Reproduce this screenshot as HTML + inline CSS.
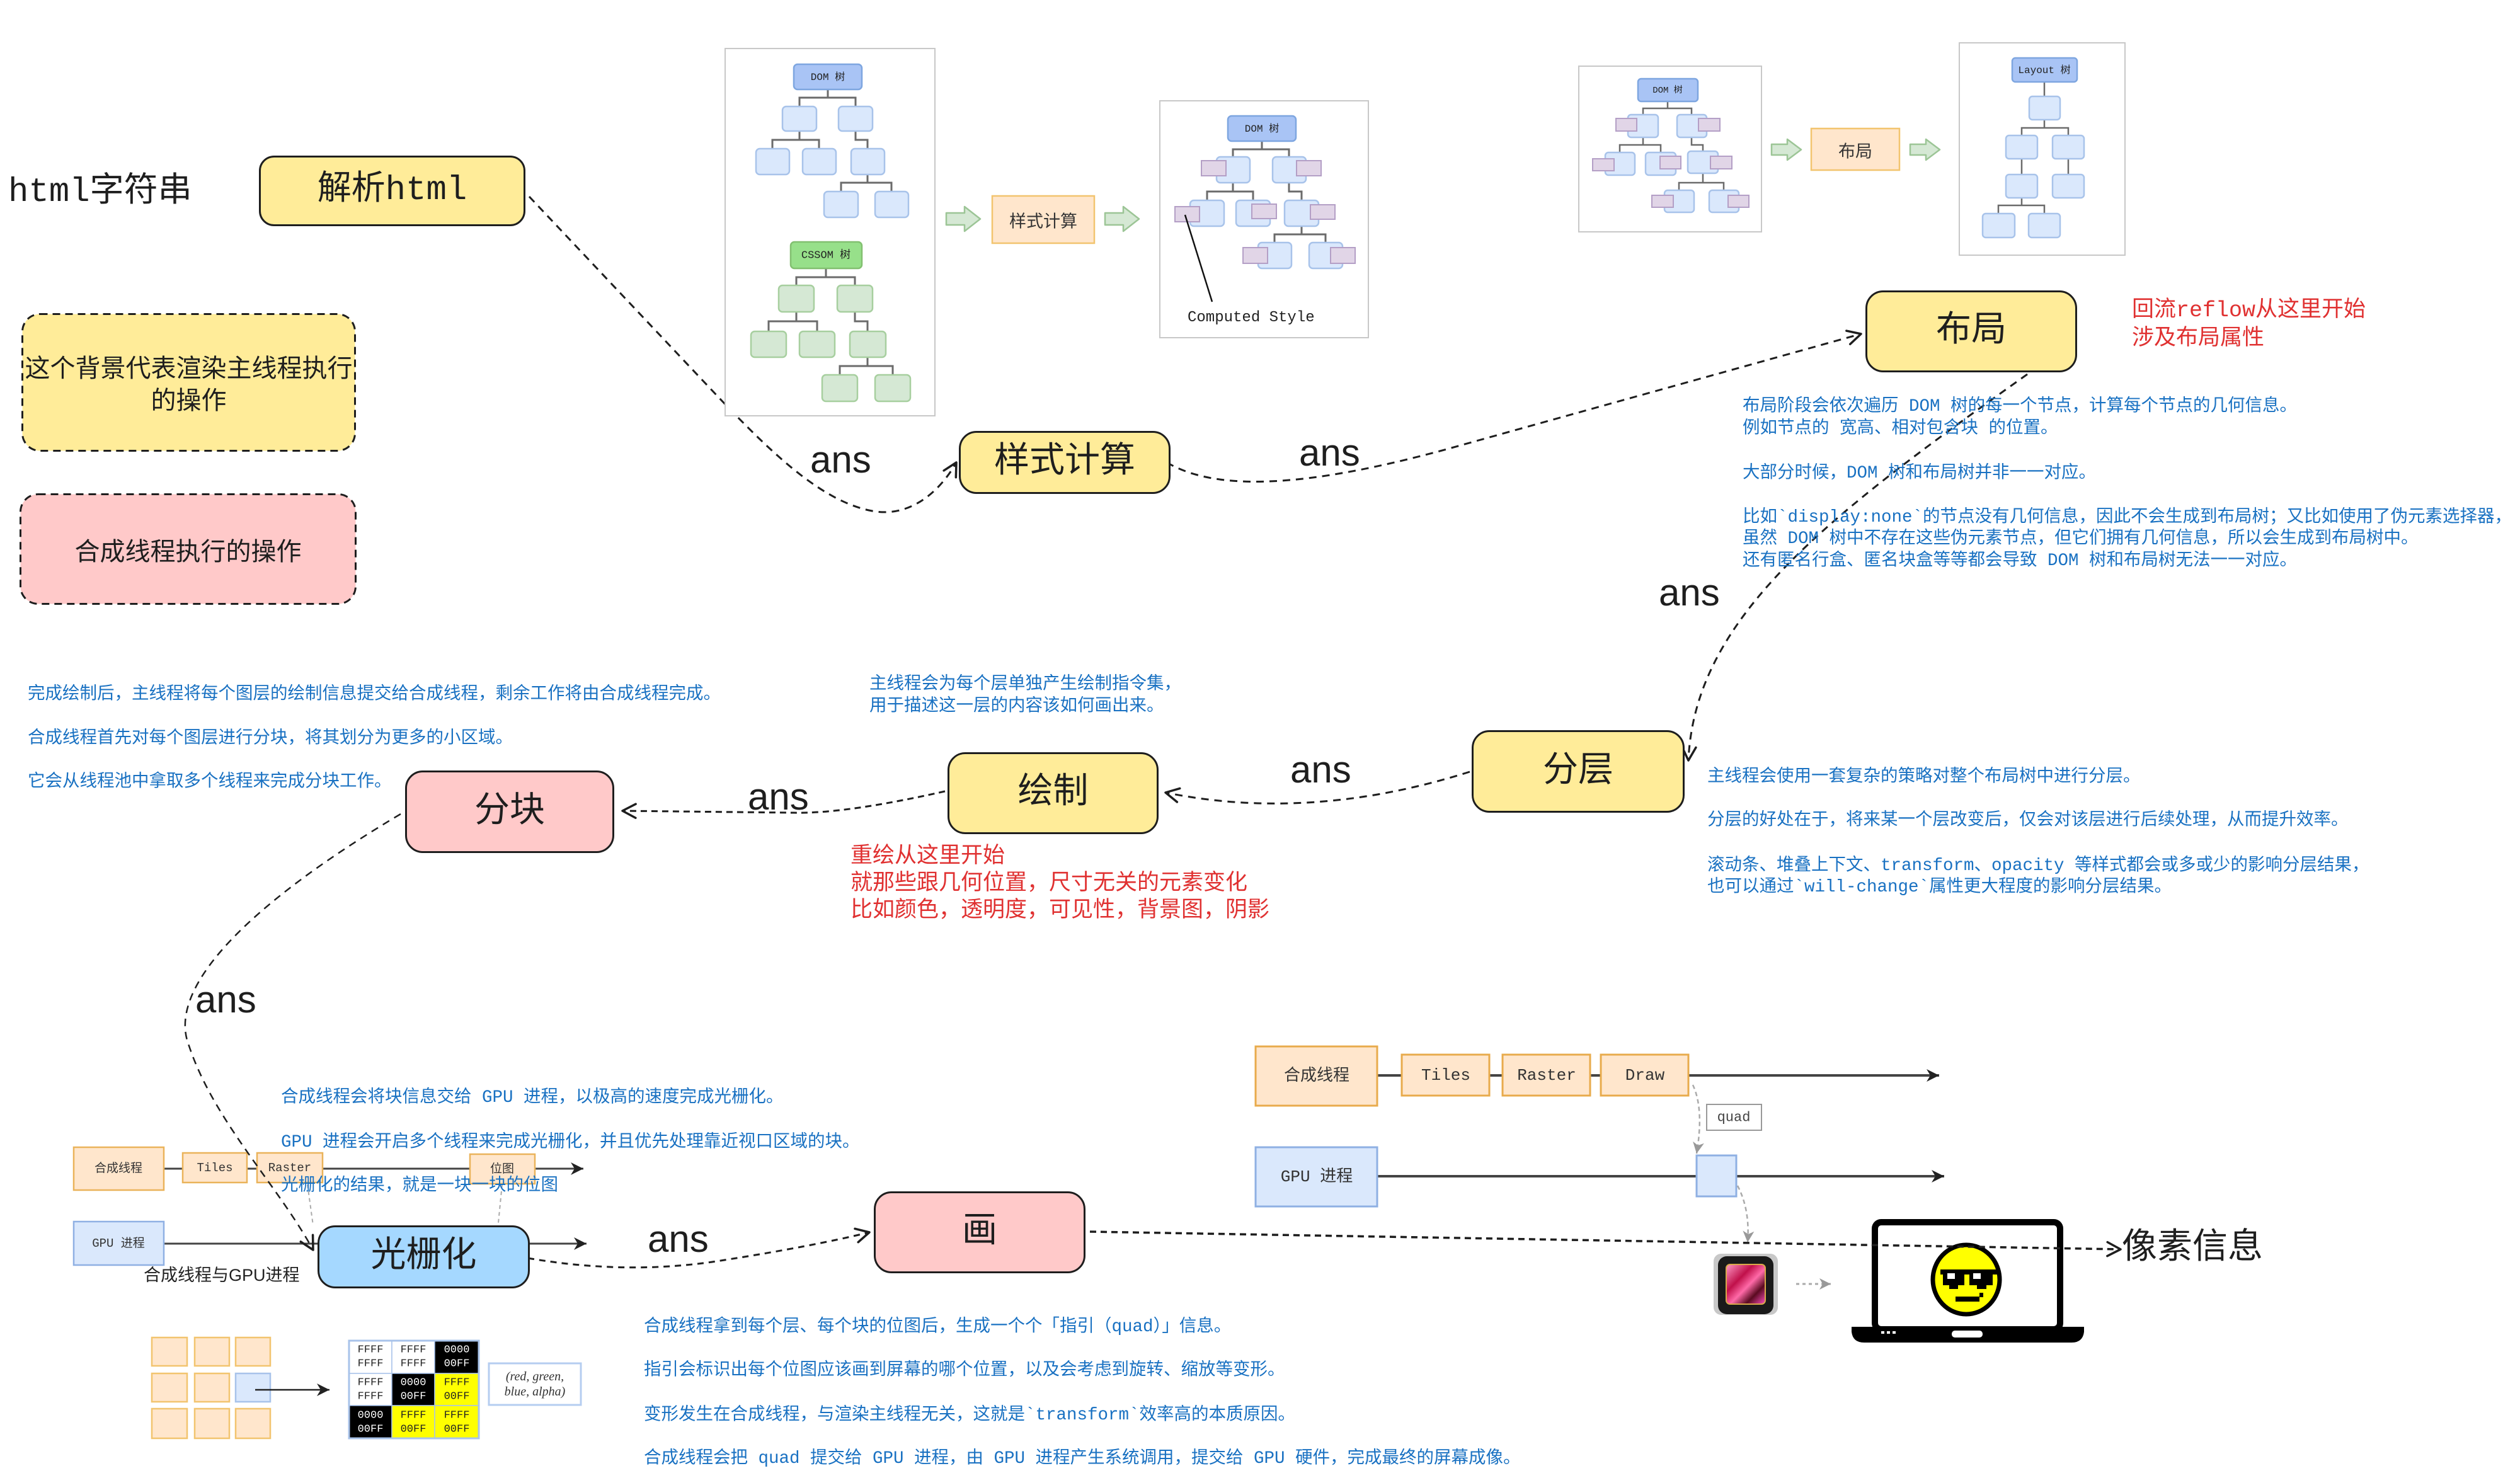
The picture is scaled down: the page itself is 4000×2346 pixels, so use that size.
<!DOCTYPE html>
<html><head><meta charset="utf-8">
<style>
html,body{margin:0;padding:0;background:#fff;}
body{width:4000px;height:2346px;position:relative;overflow:hidden;font-family:"Liberation Sans","Noto Sans CJK SC",sans-serif;}
.a{position:absolute;white-space:pre;line-height:1;color:#1e1e1e;}
.box{position:absolute;box-sizing:border-box;border:3px solid #1e1e1e;border-radius:28px;display:flex;align-items:center;justify-content:center;font-family:"Liberation Mono","Noto Sans CJK SC",monospace;font-size:56px;color:#1e1e1e;line-height:1;white-space:pre;}
.nb{border:none;background:transparent;}
.y{background:#ffec99}
.p{background:#ffc9c9}
.bl{background:#a5d8ff}
.b{position:absolute;white-space:pre;font-family:"Liberation Mono","Noto Sans CJK SC",monospace;font-size:27.5px;line-height:28px;color:#1971c2;}
.r{position:absolute;white-space:pre;font-family:"Liberation Mono","Noto Sans CJK SC",monospace;font-size:35px;line-height:36px;color:#e03131;}
.ans{position:absolute;font-family:"Liberation Sans",sans-serif;font-size:60px;line-height:60px;color:#1e1e1e;}
svg{position:absolute;left:0;top:0;}
</style></head><body>
<svg width="4000" height="2346" viewBox="0 0 4000 2346" xmlns="http://www.w3.org/2000/svg">
<defs>
<marker id="ar" markerUnits="userSpaceOnUse" markerWidth="32" markerHeight="32" refX="24" refY="13" orient="auto"><path d="M3,2 L24,13 L3,24" fill="none" stroke="#1e1e1e" stroke-width="3.5" stroke-linecap="round" stroke-linejoin="round" stroke-dasharray="none"/></marker>
<marker id="tr" markerUnits="userSpaceOnUse" markerWidth="24" markerHeight="24" refX="20" refY="11" orient="auto"><path d="M0,1 L20,11 L0,21 L6,11z" fill="#222"/></marker>
<marker id="gr" markerUnits="userSpaceOnUse" markerWidth="24" markerHeight="24" refX="18" refY="10" orient="auto"><path d="M0,1 L18,10 L0,19 L5,10z" fill="#999"/></marker>
<linearGradient id="chipg" x1="0" y1="0" x2="1" y2="1">
<stop offset="0" stop-color="#ff9ac8"/><stop offset="0.35" stop-color="#c0104a"/><stop offset="0.55" stop-color="#ff6aa8"/><stop offset="0.75" stop-color="#5a0a20"/><stop offset="1" stop-color="#ff4fc0"/>
</linearGradient>
</defs>

<!-- dashed legend boxes -->
<rect x="35.5" y="498.5" width="528" height="217" rx="28" fill="#ffec99" stroke="#1e1e1e" stroke-width="3" stroke-dasharray="12 8"/>
<rect x="32.5" y="784.5" width="532" height="174" rx="28" fill="#ffc9c9" stroke="#1e1e1e" stroke-width="3" stroke-dasharray="12 8"/>

<!-- C1 connector under panel -->
<path d="M840 312 L1140 630 C1230 725 1310 800 1390 812 C1450 820 1495 775 1518 734" fill="none" stroke="#1e1e1e" stroke-width="3" stroke-dasharray="12 9" marker-end="url(#ar)"/>

<!-- Left panel -->
<rect x="1151" y="77" width="333" height="583" fill="#fff" stroke="#c8c8c8" stroke-width="2"/>
<path d="M1314 142V155 M1269 169V155H1358V169 M1269 208V222 M1226 236V222H1300V236 M1358 208V222H1377V236 M1377 277V290 M1335 304V290H1415V304" fill="none" stroke="#6b6b6b" stroke-width="3"/>
<path d="M1311 426V440 M1264 453V440H1357V453 M1264 495V510 M1220 526V510H1297V526 M1357 495V510H1377V526 M1377 567V581 M1333 595V581H1417V595" fill="none" stroke="#6b6b6b" stroke-width="3"/>
<g fill="#dae8fc" stroke="#a8c3ea" stroke-width="2.5">
<rect x="1242" y="169" width="54" height="39" rx="6"/><rect x="1331" y="169" width="54" height="39" rx="6"/>
<rect x="1200" y="236" width="53" height="41" rx="6"/><rect x="1274" y="236" width="53" height="41" rx="6"/><rect x="1351" y="236" width="53" height="41" rx="6"/>
<rect x="1308" y="304" width="54" height="41" rx="6"/><rect x="1389" y="304" width="53" height="41" rx="6"/>
</g>
<rect x="1260" y="102" width="108" height="40" rx="6" fill="#a9c4f5" stroke="#7ea6e0" stroke-width="2.5"/>
<text x="1314" y="123" text-anchor="middle" dominant-baseline="central" font-family="Liberation Mono, Noto Sans CJK SC, monospace" font-size="16" fill="#222">DOM 树</text>
<g fill="#d5e8d4" stroke="#a7cf9f" stroke-width="2.5">
<rect x="1236" y="453" width="56" height="42" rx="6"/><rect x="1329" y="453" width="56" height="42" rx="6"/>
<rect x="1192" y="526" width="56" height="41" rx="6"/><rect x="1269" y="526" width="56" height="41" rx="6"/><rect x="1349" y="526" width="57" height="41" rx="6"/>
<rect x="1305" y="595" width="56" height="42" rx="6"/><rect x="1389" y="595" width="56" height="42" rx="6"/>
</g>
<rect x="1255" y="384" width="113" height="42" rx="6" fill="#97e08a" stroke="#82c070" stroke-width="2.5"/>
<text x="1311" y="406" text-anchor="middle" dominant-baseline="central" font-family="Liberation Mono, Noto Sans CJK SC, monospace" font-size="17" fill="#222">CSSOM 树</text>

<!-- green block arrows -->
<g fill="#d5e8d4" stroke="#9cc596" stroke-width="2.5" stroke-linejoin="round">
<polygon points="1502,338 1531,338 1531,328 1556,347.5 1531,367 1531,357 1502,357"/>
<polygon points="1754,338 1783,338 1783,328 1808,347.5 1783,367 1783,357 1754,357"/>
<polygon points="2812,229 2837,229 2837,221 2859,237.5 2837,254 2837,246 2812,246"/>
<polygon points="3032,229 3057,229 3057,221 3079,237.5 3057,254 3057,246 3032,246"/>
</g>
<!-- 样式计算 orange -->
<rect x="1575" y="311" width="162" height="75" fill="#ffe6cc" stroke="#f2c46f" stroke-width="2.5"/>
<text x="1656" y="349" text-anchor="middle" dominant-baseline="central" font-family="Noto Sans CJK SC, sans-serif" font-size="27" fill="#333">样式计算</text>

<!-- Right panel (computed style) -->
<rect x="1841" y="160" width="331" height="376" fill="#fff" stroke="#c8c8c8" stroke-width="2"/>
<path d="M2003 224V237 M1957 249V237H2046V249 M1957 290V304 M1916 318V304H1989V318 M2046 290V304H2066V318 M2066 359V372 M2023 385V372H2104V385" fill="none" stroke="#6b6b6b" stroke-width="3"/>
<g fill="#dae8fc" stroke="#a8c3ea" stroke-width="2.5">
<rect x="1931" y="249" width="53" height="41" rx="6"/><rect x="2020" y="249" width="53" height="41" rx="6"/>
<rect x="1889" y="318" width="54" height="41" rx="6"/><rect x="1962" y="318" width="54" height="41" rx="6"/><rect x="2039" y="318" width="54" height="41" rx="6"/>
<rect x="1997" y="385" width="53" height="41" rx="6"/><rect x="2078" y="385" width="53" height="41" rx="6"/>
</g>
<rect x="1949" y="184" width="108" height="40" rx="6" fill="#a9c4f5" stroke="#7ea6e0" stroke-width="2.5"/>
<text x="2003" y="205" text-anchor="middle" dominant-baseline="central" font-family="Liberation Mono, Noto Sans CJK SC, monospace" font-size="16" fill="#222">DOM 树</text>
<g fill="#e1d5e7" stroke="#b49fc6" stroke-width="2">
<rect x="1907" y="255" width="39" height="24"/><rect x="2058" y="255" width="39" height="24"/>
<rect x="1865" y="328" width="39" height="24"/><rect x="1987" y="324" width="39" height="23"/><rect x="2080" y="325" width="39" height="23"/>
<rect x="1973" y="393" width="39" height="25"/><rect x="2112" y="393" width="39" height="25"/>
</g>
<line x1="1881" y1="341" x2="1924" y2="479" stroke="#111" stroke-width="2.5"/>

<!-- Panel 3 -->
<rect x="2506" y="105" width="290" height="263" fill="#fff" stroke="#c8c8c8" stroke-width="2"/>
<path d="M2647 161V172 M2608 182V172H2685V182 M2608 218V230 M2571 242V230H2636V242 M2685 218V230H2703V240 M2703 275V290 M2665 302V290H2736V302" fill="none" stroke="#6b6b6b" stroke-width="2.5"/>
<g fill="#dae8fc" stroke="#a8c3ea" stroke-width="2.5">
<rect x="2584" y="182" width="48" height="36" rx="5"/><rect x="2662" y="182" width="47" height="36" rx="5"/>
<rect x="2548" y="242" width="47" height="36" rx="5"/><rect x="2612" y="242" width="48" height="36" rx="5"/><rect x="2679" y="240" width="48" height="35" rx="5"/>
<rect x="2642" y="302" width="47" height="35" rx="5"/><rect x="2713" y="302" width="47" height="35" rx="5"/>
</g>
<rect x="2600" y="125" width="95" height="36" rx="5" fill="#a9c4f5" stroke="#7ea6e0" stroke-width="2.5"/>
<text x="2647" y="144" text-anchor="middle" dominant-baseline="central" font-family="Liberation Mono, Noto Sans CJK SC, monospace" font-size="14" fill="#222">DOM 树</text>
<g fill="#e1d5e7" stroke="#b49fc6" stroke-width="2">
<rect x="2565" y="188" width="33" height="20"/><rect x="2696" y="188" width="34" height="20"/>
<rect x="2528" y="252" width="34" height="19"/><rect x="2635" y="248" width="33" height="20"/><rect x="2715" y="248" width="34" height="20"/>
<rect x="2622" y="310" width="34" height="19"/><rect x="2743" y="310" width="33" height="19"/>
</g>
<!-- 布局 orange -->
<rect x="2875" y="204" width="140" height="66" fill="#ffe6cc" stroke="#f2c46f" stroke-width="2.5"/>
<text x="2945" y="238" text-anchor="middle" dominant-baseline="central" font-family="Noto Sans CJK SC, sans-serif" font-size="27" fill="#333">布局</text>

<!-- Layout panel -->
<rect x="3110" y="68" width="263" height="337" fill="#fff" stroke="#c8c8c8" stroke-width="2"/>
<path d="M3245 130V153 M3245 190V203 M3209 215V203H3283V215 M3209 252V277 M3283 252V277 M3209 314V326 M3172 339V326H3245V339" fill="none" stroke="#6b6b6b" stroke-width="2.5"/>
<g fill="#dae8fc" stroke="#a8c3ea" stroke-width="2.5">
<rect x="3221" y="153" width="49" height="37" rx="5"/>
<rect x="3184" y="215" width="50" height="37" rx="5"/><rect x="3258" y="215" width="50" height="37" rx="5"/>
<rect x="3184" y="277" width="50" height="37" rx="5"/><rect x="3258" y="277" width="50" height="37" rx="5"/>
<rect x="3147" y="339" width="51" height="38" rx="5"/><rect x="3220" y="339" width="50" height="38" rx="5"/>
</g>
<rect x="3194" y="92" width="103" height="38" rx="5" fill="#a9c4f5" stroke="#7ea6e0" stroke-width="2.5"/>
<text x="3245" y="112" text-anchor="middle" dominant-baseline="central" font-family="Liberation Mono, Noto Sans CJK SC, monospace" font-size="16" fill="#222">Layout 树</text>

<!-- Bottom-left timeline -->
<line x1="260" y1="1855" x2="926" y2="1855" stroke="#444" stroke-width="3" marker-end="url(#tr)"/>
<line x1="260" y1="1974" x2="931" y2="1974" stroke="#444" stroke-width="3" marker-end="url(#tr)"/>
<g fill="#ffe6cc" stroke="#eab35a" stroke-width="2.5">
<rect x="117" y="1821" width="143" height="68"/>
<rect x="290" y="1830" width="102" height="47"/>
<rect x="408" y="1830" width="104" height="47"/>
<rect x="746" y="1832" width="103" height="47"/>
</g>
<rect x="117" y="1939" width="143" height="69" fill="#dae8fc" stroke="#8fb0e3" stroke-width="2.5"/>
<g font-size="19" fill="#333" text-anchor="middle" dominant-baseline="central" font-family="Liberation Mono, Noto Sans CJK SC, monospace">
<text x="188" y="1855">合成线程</text>
<text x="341" y="1854">Tiles</text>
<text x="460" y="1854">Raster</text>
<text x="797" y="1856">位图</text>
<text x="188" y="1974">GPU 进程</text>
</g>
<path d="M488 1880 L497 1945 M797 1880 L791 1941" stroke="#aaa" stroke-width="2" stroke-dasharray="6 5" fill="none"/>

<!-- pixel grid image -->
<g fill="#ffe6cc" stroke="#f2c46f" stroke-width="2.5">
<rect x="241" y="2123" width="56" height="45"/><rect x="309" y="2123" width="55" height="45"/><rect x="374" y="2123" width="55" height="45"/>
<rect x="241" y="2180" width="56" height="45"/><rect x="309" y="2180" width="55" height="45"/>
<rect x="241" y="2236" width="56" height="47"/><rect x="309" y="2236" width="55" height="47"/><rect x="374" y="2236" width="55" height="47"/>
</g>
<rect x="374" y="2180" width="55" height="45" fill="#dae8fc" stroke="#a8c3ea" stroke-width="2.5"/>
<line x1="405" y1="2206" x2="523" y2="2206" stroke="#222" stroke-width="2.5" marker-end="url(#tr)"/>
<g stroke="#a8c3ea" stroke-width="1.5">
<rect x="554" y="2128" width="68" height="52" fill="#fff"/><rect x="622" y="2128" width="68" height="52" fill="#fff"/><rect x="690" y="2128" width="70" height="52" fill="#000"/>
<rect x="554" y="2180" width="68" height="51" fill="#fff"/><rect x="622" y="2180" width="68" height="51" fill="#000"/><rect x="690" y="2180" width="70" height="51" fill="#ffff00"/>
<rect x="554" y="2231" width="68" height="52" fill="#000"/><rect x="622" y="2231" width="68" height="52" fill="#ffff00"/><rect x="690" y="2231" width="70" height="52" fill="#ffff00"/>
</g>
<rect x="554" y="2128" width="206" height="155" fill="none" stroke="#a8c3ea" stroke-width="3"/>
<g font-family="Liberation Mono, monospace" font-size="17" text-anchor="middle" dominant-baseline="central">
<text x="588" y="2143" fill="#222">FFFF</text><text x="588" y="2165" fill="#222">FFFF</text>
<text x="656" y="2143" fill="#222">FFFF</text><text x="656" y="2165" fill="#222">FFFF</text>
<text x="725" y="2143" fill="#fff">0000</text><text x="725" y="2165" fill="#fff">00FF</text>
<text x="588" y="2195" fill="#222">FFFF</text><text x="588" y="2217" fill="#222">FFFF</text>
<text x="656" y="2195" fill="#fff">0000</text><text x="656" y="2217" fill="#fff">00FF</text>
<text x="725" y="2195" fill="#222">FFFF</text><text x="725" y="2217" fill="#222">00FF</text>
<text x="588" y="2247" fill="#fff">0000</text><text x="588" y="2269" fill="#fff">00FF</text>
<text x="656" y="2247" fill="#222">FFFF</text><text x="656" y="2269" fill="#222">00FF</text>
<text x="725" y="2247" fill="#222">FFFF</text><text x="725" y="2269" fill="#222">00FF</text>
</g>
<rect x="776" y="2164" width="146" height="66" fill="#fff" stroke="#b5cdf0" stroke-width="3"/>
<g font-family="Liberation Serif, serif" font-style="italic" font-size="20" fill="#333" text-anchor="middle" dominant-baseline="central">
<text x="849" y="2185">(red, green,</text><text x="849" y="2209">blue, alpha)</text>
</g>

<!-- Bottom-right timeline -->
<line x1="2186" y1="1707" x2="3078" y2="1707" stroke="#444" stroke-width="4" marker-end="url(#tr)"/>
<line x1="2186" y1="1867" x2="3086" y2="1867" stroke="#444" stroke-width="4" marker-end="url(#tr)"/>
<g fill="#ffe6cc" stroke="#e8ab4c" stroke-width="3">
<rect x="1993" y="1661" width="193" height="94"/>
<rect x="2225" y="1674" width="139" height="65"/>
<rect x="2385" y="1674" width="139" height="65"/>
<rect x="2541" y="1674" width="139" height="65"/>
</g>
<rect x="1993" y="1821" width="193" height="94" fill="#dae8fc" stroke="#8fb0e3" stroke-width="3"/>
<rect x="2693" y="1834" width="63" height="65" fill="#dae8fc" stroke="#8fb0e3" stroke-width="3"/>
<g font-size="26" fill="#333" text-anchor="middle" dominant-baseline="central" font-family="Liberation Mono, Noto Sans CJK SC, monospace">
<text x="2090" y="1708">合成线程</text>
<text x="2295" y="1707">Tiles</text>
<text x="2455" y="1707">Raster</text>
<text x="2611" y="1707">Draw</text>
<text x="2090" y="1868">GPU 进程</text>
</g>
<path d="M2687 1722 Q2705 1760 2693 1831" fill="none" stroke="#aaa" stroke-width="2.5" stroke-dasharray="7 5" marker-end="url(#gr)"/>
<rect x="2709" y="1753" width="87" height="41" fill="#fff" stroke="#999" stroke-width="2"/>
<text x="2752" y="1774" text-anchor="middle" dominant-baseline="central" font-family="Liberation Mono, monospace" font-size="22" fill="#444">quad</text>
<path d="M2758 1882 Q2778 1920 2774 1972" fill="none" stroke="#aaa" stroke-width="2.5" stroke-dasharray="7 5" marker-end="url(#gr)"/>

<!-- chip -->
<rect x="2720" y="1990" width="102" height="97" rx="12" fill="#c8c8c8"/>
<rect x="2727" y="1994" width="88" height="92" rx="14" fill="#1a1a1a"/>
<rect x="2740" y="2007" width="62" height="63" rx="6" fill="url(#chipg)" stroke="#d9a84a" stroke-width="2"/>
<line x1="2851" y1="2038" x2="2906" y2="2038" stroke="#aaa" stroke-width="3" stroke-dasharray="5 5" marker-end="url(#gr)"/>

<!-- laptop -->
<rect x="2976" y="1940" width="294" height="170" rx="10" fill="#fff" stroke="#000" stroke-width="10"/>
<path d="M2939 2106 H3308 V2114 Q3306 2131 3288 2131 H2959 Q2941 2131 2939 2114 Z" fill="#000"/>
<rect x="3098" y="2112" width="49" height="11" rx="5" fill="#fff"/>
<g fill="#fff"><rect x="2986" y="2113" width="5" height="4"/><rect x="2995" y="2113" width="5" height="4"/><rect x="3004" y="2113" width="5" height="4"/></g>
<!-- smiley -->
<ellipse cx="3121" cy="2031" rx="53" ry="55" fill="#ffff00" stroke="#000" stroke-width="7"/>
<rect x="3080" y="2015" width="90" height="8" fill="#000"/>
<path d="M3084 2015 H3118 V2040 H3108 V2046 H3094 V2040 H3084 Z" fill="#000"/>
<path d="M3126 2015 H3163 V2040 H3153 V2046 H3138 V2040 H3126 Z" fill="#000"/>
<rect x="3091" y="2021" width="12" height="9" fill="#fff"/>
<rect x="3132" y="2021" width="12" height="9" fill="#fff"/>
<rect x="3104" y="2058" width="38" height="8" fill="#000"/>
<rect x="3142" y="2052" width="6" height="7" fill="#000"/>

<!-- connectors -->
<path d="M1852 734 C1930 780 2070 775 2300 712 L2954 530" fill="none" stroke="#1e1e1e" stroke-width="3" stroke-dasharray="12 9" marker-end="url(#ar)"/>
<path d="M3218 594 C2900 820 2690 980 2680 1207" fill="none" stroke="#1e1e1e" stroke-width="3" stroke-dasharray="12 9" marker-end="url(#ar)"/>
<path d="M2333 1225 Q2080 1305 1850 1258" fill="none" stroke="#1e1e1e" stroke-width="3" stroke-dasharray="12 9" marker-end="url(#ar)"/>
<path d="M1500 1256 Q1340 1292 1260 1290 L988 1287" fill="none" stroke="#1e1e1e" stroke-width="3" stroke-dasharray="10 7" marker-end="url(#ar)"/>
<path d="M636 1292 C420 1420 260 1560 300 1660 C340 1780 440 1880 497 1984" fill="none" stroke="#1e1e1e" stroke-width="2.5" stroke-dasharray="12 9" marker-end="url(#ar)"/>
<path d="M838 1997 Q1000 2025 1150 2000 Q1290 1978 1380 1956" fill="none" stroke="#1e1e1e" stroke-width="3" stroke-dasharray="10 8" marker-end="url(#ar)"/>
<path d="M1730 1955 L3366 1983" fill="none" stroke="#1e1e1e" stroke-width="3.5" stroke-dasharray="10 7" marker-end="url(#ar)"/>
</svg>

<!-- Top-left -->
<div class="a" style="left:13px;top:279px;font-size:54px;font-family:'Liberation Mono','Noto Sans CJK SC',monospace;">html字符串</div>
<div class="box y" style="left:411px;top:247px;width:423px;height:112px;font-size:54px;border-radius:24px;">解析html</div>
<div class="box nb" style="left:34px;top:497px;width:531px;height:220px;font-family:'Noto Sans CJK SC',sans-serif;font-size:40px;line-height:51px;text-align:center;">这个背景代表渲染主线程执行
的操作</div>
<div class="box nb" style="left:31px;top:783px;width:535px;height:177px;font-family:'Noto Sans CJK SC',sans-serif;font-size:40px;">合成线程执行的操作</div>

<div class="a" style="left:1885px;top:493px;font-size:24px;font-family:'Liberation Mono',monospace;color:#222;">Computed Style</div>

<!-- main boxes -->
<div class="box y" style="left:1522px;top:684px;width:336px;height:100px;">样式计算</div>
<div class="box y" style="left:2961px;top:461px;width:336px;height:130px;">布局</div>
<div class="box y" style="left:2336px;top:1159px;width:338px;height:131px;">分层</div>
<div class="box y" style="left:1504px;top:1194px;width:335px;height:130px;">绘制</div>
<div class="box p" style="left:643px;top:1223px;width:332px;height:131px;">分块</div>
<div class="box bl" style="left:504px;top:1945px;width:337px;height:100px;">光栅化</div>
<div class="box p" style="left:1387px;top:1891px;width:336px;height:130px;">画</div>

<div class="a" style="left:3368px;top:1946px;font-size:56px;font-family:'Noto Sans CJK SC',sans-serif;">像素信息</div>
<div class="a" style="left:228px;top:2011px;font-size:27px;color:#222;">合成线程与GPU进程</div>

<!-- ans labels -->
<div class="ans" style="left:1286px;top:700px;">ans</div>
<div class="ans" style="left:2062px;top:689px;">ans</div>
<div class="ans" style="left:2633px;top:911px;">ans</div>
<div class="ans" style="left:2048px;top:1192px;">ans</div>
<div class="ans" style="left:1187px;top:1235px;">ans</div>
<div class="ans" style="left:310px;top:1557px;">ans</div>
<div class="ans" style="left:1028px;top:1937px;">ans</div>

<!-- red texts -->
<div class="r" style="left:3384px;top:475px;">回流reflow从这里开始</div>
<div class="r" style="left:3384px;top:520px;">涉及布局属性</div>
<div class="r" style="left:1350px;top:1342px;">重绘从这里开始</div>
<div class="r" style="left:1350px;top:1385px;">就那些跟几何位置，尺寸无关的元素变化</div>
<div class="r" style="left:1350px;top:1428px;">比如颜色，透明度，可见性，背景图，阴影</div>

<!-- blue texts: layout -->
<div class="b" style="left:2766px;top:632px;">布局阶段会依次遍历 DOM 树的每一个节点，计算每个节点的几何信息。</div>
<div class="b" style="left:2766px;top:667px;">例如节点的 宽高、相对包含块 的位置。</div>
<div class="b" style="left:2766px;top:738px;">大部分时候，DOM 树和布局树并非一一对应。</div>
<div class="b" style="left:2766px;top:808px;">比如`display:none`的节点没有几何信息，因此不会生成到布局树；又比如使用了伪元素选择器，</div>
<div class="b" style="left:2766px;top:842px;">虽然 DOM 树中不存在这些伪元素节点，但它们拥有几何信息，所以会生成到布局树中。</div>
<div class="b" style="left:2766px;top:877px;">还有匿名行盒、匿名块盒等等都会导致 DOM 树和布局树无法一一对应。</div>

<!-- blue: layering -->
<div class="b" style="left:2710px;top:1220px;">主线程会使用一套复杂的策略对整个布局树中进行分层。</div>
<div class="b" style="left:2710px;top:1289px;">分层的好处在于，将来某一个层改变后，仅会对该层进行后续处理，从而提升效率。</div>
<div class="b" style="left:2710px;top:1361px;">滚动条、堆叠上下文、transform、opacity 等样式都会或多或少的影响分层结果，</div>
<div class="b" style="left:2710px;top:1395px;">也可以通过`will-change`属性更大程度的影响分层结果。</div>

<!-- blue: tiling -->
<div class="b" style="left:44px;top:1089px;">完成绘制后，主线程将每个图层的绘制信息提交给合成线程，剩余工作将由合成线程完成。</div>
<div class="b" style="left:44px;top:1159px;">合成线程首先对每个图层进行分块，将其划分为更多的小区域。</div>
<div class="b" style="left:44px;top:1228px;">它会从线程池中拿取多个线程来完成分块工作。</div>

<!-- blue: paint -->
<div class="b" style="left:1380px;top:1073px;">主线程会为每个层单独产生绘制指令集，</div>
<div class="b" style="left:1380px;top:1108px;">用于描述这一层的内容该如何画出来。</div>

<!-- blue: raster -->
<div class="b" style="left:446px;top:1729px;">合成线程会将块信息交给 GPU 进程，以极高的速度完成光栅化。</div>
<div class="b" style="left:446px;top:1800px;">GPU 进程会开启多个线程来完成光栅化，并且优先处理靠近视口区域的块。</div>
<div class="b" style="left:446px;top:1869px;">光栅化的结果，就是一块一块的位图</div>

<!-- blue: draw -->
<div class="b" style="left:1022px;top:2093px;">合成线程拿到每个层、每个块的位图后，生成一个个「指引（quad）」信息。</div>
<div class="b" style="left:1022px;top:2162px;">指引会标识出每个位图应该画到屏幕的哪个位置，以及会考虑到旋转、缩放等变形。</div>
<div class="b" style="left:1022px;top:2233px;">变形发生在合成线程，与渲染主线程无关，这就是`transform`效率高的本质原因。</div>
<div class="b" style="left:1022px;top:2302px;">合成线程会把 quad 提交给 GPU 进程，由 GPU 进程产生系统调用，提交给 GPU 硬件，完成最终的屏幕成像。</div>
</body></html>
